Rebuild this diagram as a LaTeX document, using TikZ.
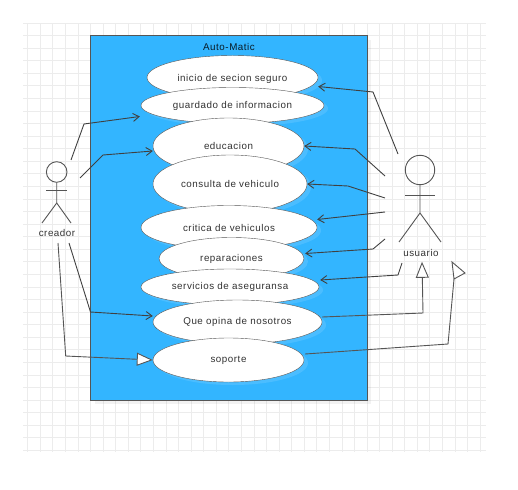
\documentclass[tikz,border=0pt]{standalone}
\usepackage{fontspec}
\setmainfont[LetterSpace=5.5]{Liberation Sans}
\usetikzlibrary{positioning}
\usetikzlibrary{calc}
\usetikzlibrary{shadows}
\usetikzlibrary{shapes.geometric}
\usetikzlibrary{arrows.meta}
\definecolor{mblue}{RGB}{51,181,255}
\definecolor{mline}{RGB}{85,85,85}
\definecolor{mtext}{RGB}{50,50,50}
\definecolor{mgrid}{RGB}{236,236,236}
\tikzset{usecase/.style={draw=mline, ellipse, fill=white, inner sep=0pt, text=mtext, font=\fontsize{9.8}{11}\selectfont,
    drop shadow={shadow xshift=4pt, shadow yshift=-3pt, opacity=.12, fill=white}}}

\begin{document}
\begin{tikzpicture}[x=1pt, y=-1pt,
    gridline/.style={mgrid, line width=.9pt},
    system/.style={draw=mline, fill=mblue, line width=1pt, drop shadow={shadow xshift=4pt, shadow yshift=-4pt, opacity=.1}},
    actorlabel/.style={text=mtext, inner sep=1pt, font=\fontsize{9.8}{11}\selectfont},
    stick/.style={draw=mline, line width=.9pt},
    arrow/.style={-{Straight Barb[length=6pt,width=8pt]}, draw=mline!75!black, line width=.9pt},
    hollow/.style={-{Triangle[open,fill=white,length=16pt,width=13pt]}, draw=mline, line width=.9pt},
]
\useasboundingbox (0,0) rectangle (518,489);

% background grid
\foreach \k in {0,...,36} {\draw[gridline] ({27.7+12.57*\k},23) -- ({27.7+12.57*\k},452);}
\foreach \k in {0,...,34} {\draw[gridline] (23,{23.1+12.57*\k}) -- (486,{23.1+12.57*\k});}

\draw[system] (90.5,36) rectangle (367,400);
\node[text=black!85!mblue, font=\fontsize{9.8}{11}\selectfont] (title) at (229,46.5) {Auto-Matic};

\node[usecase, minimum width=171pt, minimum height=44pt, text depth=0pt] (inicio) at (232.5,77.5) {inicio de secion seguro};
\node[usecase, minimum width=183pt, minimum height=36pt] (guardado) at (232.5,105.5) {guardado de informacion};
\node[usecase, minimum width=151pt, minimum height=56pt] (educacion) at (228.5,146) {educacion};
\node[usecase, minimum width=154pt, minimum height=58pt] (consulta) at (230,184) {consulta de vehiculo};
\node[usecase, minimum width=176pt, minimum height=44pt] (critica) at (229,227.5) {critica de vehiculos};
\node[usecase, minimum width=145pt, minimum height=42pt] (reparaciones) at (231.5,258.5) {reparaciones};
\node[usecase, minimum width=178pt, minimum height=36pt] (servicios) at (230,287) {servicios de aseguransa};
\node[usecase, minimum width=169pt, minimum height=44pt] (opina) at (237.5,322) {Que opina de nosotros};
\node[usecase, minimum width=151pt, minimum height=44pt] (soporte) at (228.5,360) {soporte};

% actors
\node[stick, circle, minimum size=20.6pt, inner sep=0pt] (creadorhead) at (56.7,172) {};
\node[actorlabel] (creador) at (57,233) {creador};
\draw[stick] (creadorhead.south) -- (56.7,203) -- (42,223);
\draw[stick] (56.7,203) -- (71,223);
\draw[stick] (46,190) -- (67,190);

\node[stick, circle, minimum size=29.4pt, inner sep=0pt] (usuariohead) at (420,170) {};
\node[actorlabel] (usuario) at (421,253) {usuario};
\draw[stick] (usuariohead.south) -- (420,213) -- (399,242);
\draw[stick] (420,213) -- (441,242);
\draw[stick] (405,195) -- (435,195);

\coordinate (creador_a) at (71,160);
\coordinate (creador_b) at (80,178);
\coordinate (creador_c) at (69,243);
\coordinate (creador_d) at (58,243);
\coordinate (usuario_a) at (398,154);
\coordinate (usuario_b) at (385,176);
\coordinate (usuario_c) at (385,198);
\coordinate (usuario_d) at (385,212);
\coordinate (usuario_e) at (385,239);
\coordinate (usuario_f) at (402,263);

\draw[arrow] (creador_a) -- (84,124) -- ([xshift=-1pt,yshift=-11pt]guardado.west);
\draw[arrow] (creador_b) -- (103,155) -- ([yshift=-5pt]educacion.west);
\draw[arrow] (creador_c) -- (90.5,312) -- ([yshift=6pt]opina.west);
\draw[hollow] (creador_d) -- (65.7,356) -- (soporte.west);

\draw[arrow] (usuario_a) -- (373,92) -- ([yshift=-9pt]inicio.east);
\draw[arrow] (usuario_b) -- (355,149) -- (educacion.east);
\draw[arrow] (usuario_c) -- (348,186) -- (consulta.east);
\draw[arrow] (usuario_d) -- ([yshift=8pt]critica.east);
\draw[arrow] (usuario_e) -- (373,249) -- ([xshift=1pt,yshift=5pt]reparaciones.east);
\draw[arrow] (usuario_f) -- (398,275) -- ([xshift=1pt,yshift=7pt]servicios.east);

\draw[hollow] ([yshift=5pt]opina.east) -- (423,313) -- ([xshift=1pt,yshift=-4pt]usuario.south);
\coordinate (soporte_end) at (454,279);
\draw[stick] ([xshift=1pt,yshift=6pt]soporte.east) -- (448,344) -- (soporte_end);
\draw[stick, fill=white] (452,262) -- (465,273) -- (soporte_end) -- cycle;
\end{tikzpicture}
\end{document}
